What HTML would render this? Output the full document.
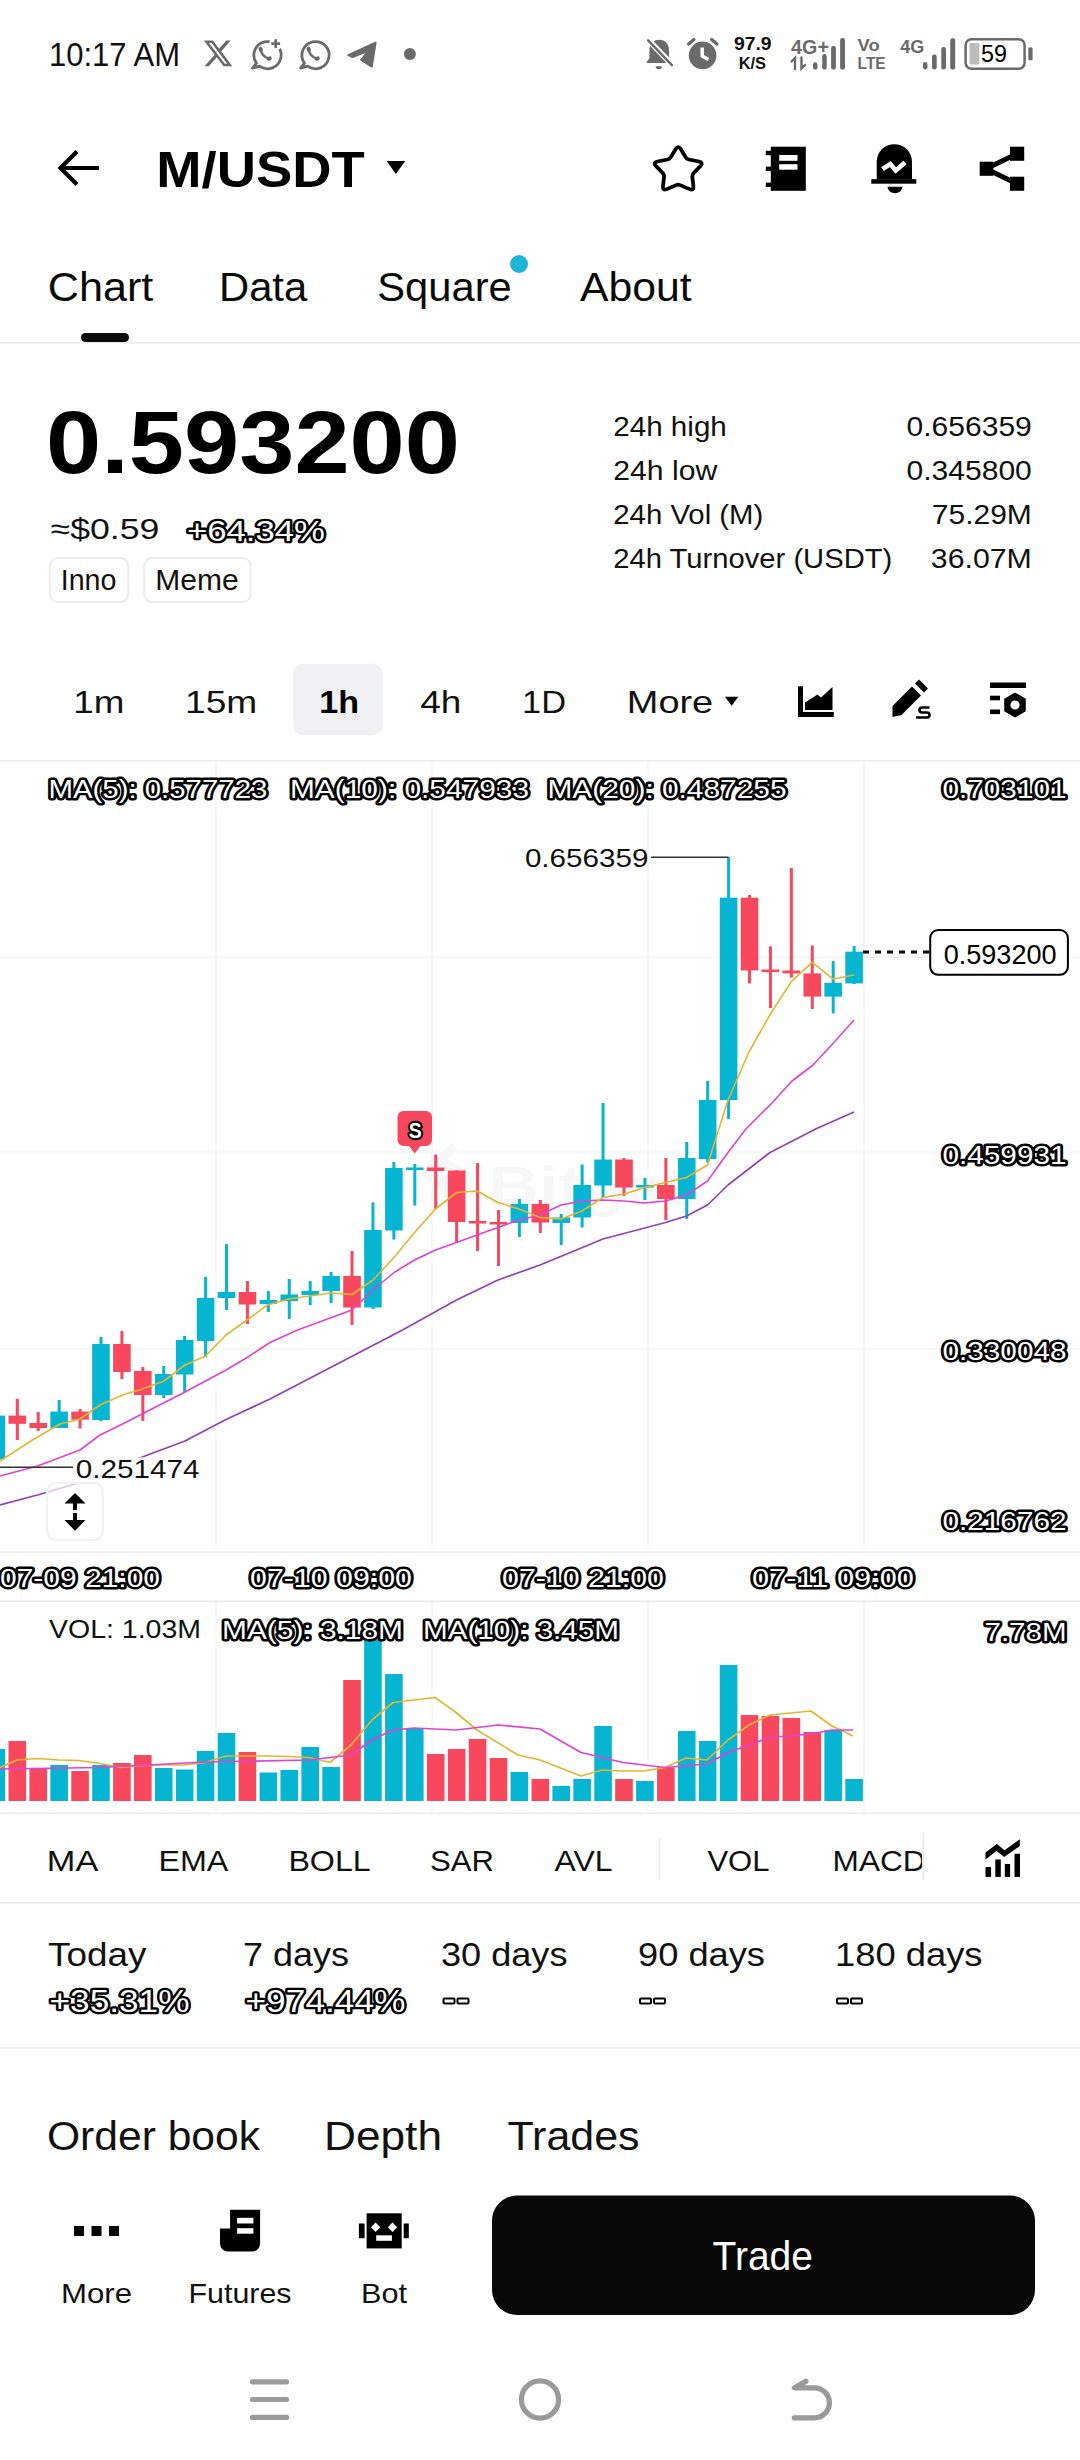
<!DOCTYPE html>
<html><head><meta charset="utf-8"><title>M/USDT</title>
<style>
html,body{margin:0;padding:0;background:#fff;width:1080px;height:2460px;overflow:hidden}
svg{display:block}
text{font-family:"Liberation Sans",sans-serif}
</style></head><body>
<svg width="1080" height="2460" viewBox="0 0 1080 2460">
<rect width="1080" height="2460" fill="#fff"/>
<text x="49" y="66.3" font-size="33.5" font-weight="normal" text-anchor="start" fill="#111" font-family="Liberation Sans" textLength="131" lengthAdjust="spacingAndGlyphs" >10:17 AM</text>
<path transform="translate(202.24,37.63) scale(1.32)" fill="#6a6a6a" d="M18.244 2.25h3.308l-7.227 8.26 8.502 11.24H16.17l-5.214-6.817L4.99 21.75H1.68l7.73-8.835L1.254 2.25H8.08l4.713 6.231zm-1.161 17.52h1.833L7.084 4.126H5.117z"/>
<g fill="none" stroke="#6a6a6a" stroke-width="2.8" stroke-linejoin="round"><path d="M256.5,63.2 l-4,5 7,-2 A13.6,13.6 0 1 0 256.5,63.2z"/></g>
<path d="M260.7,49.800000000000004 q0.7,5.8 8.3,9" fill="none" stroke="#6a6a6a" stroke-width="2.5" stroke-linecap="round"/>
<g fill="#6a6a6a"><ellipse cx="260.7" cy="49.300000000000004" rx="2.1" ry="2.6" transform="rotate(-25 260.7 49.300000000000004)"/><ellipse cx="269.3" cy="58.6" rx="2.6" ry="2" transform="rotate(-25 269.3 58.6)"/></g>
<circle cx="275.7" cy="43.6" r="6.6" fill="#fff"/>
<path d="M275.7,39.2v8.8M271.3,43.6h8.8" stroke="#6a6a6a" stroke-width="2.7"/>
<g fill="none" stroke="#6a6a6a" stroke-width="2.8" stroke-linejoin="round"><path d="M304.5,63.2 l-4,5 7,-2 A13.6,13.6 0 1 0 304.5,63.2z"/></g>
<path d="M308.7,49.800000000000004 q0.7,5.8 8.3,9" fill="none" stroke="#6a6a6a" stroke-width="2.5" stroke-linecap="round"/>
<g fill="#6a6a6a"><ellipse cx="308.7" cy="49.300000000000004" rx="2.1" ry="2.6" transform="rotate(-25 308.7 49.300000000000004)"/><ellipse cx="317.3" cy="58.6" rx="2.6" ry="2" transform="rotate(-25 317.3 58.6)"/></g>
<path d="M348.2,55.2 L375.6,42.6 L371.8,66.6 L361.2,59.8 L368.6,50.6 L352.6,57.2 Z" fill="#6a6a6a" stroke="#6a6a6a" stroke-width="2" stroke-linejoin="round"/>
<circle cx="409.9" cy="53.9" r="6" fill="#6a6a6a"/>
<g fill="#6a6a6a"><path d="M659.2,39.7 c-6,0 -9.8,4.5 -9.8,11 v7.8 l-2.6,3 v1.6 h24.8 v-1.6 l-2.5,-3 v-7.8 c0,-6.5 -3.9,-11 -9.9,-11z"/><path d="M655.7,66.2 h6.3 a3.15,3 0 0 1 -6.3,0z"/></g>
<path d="M647.6,39.2 L673.2,65.8" stroke="#fff" stroke-width="5.6"/><path d="M648.1,40.3 L671.9,65.2" stroke="#6a6a6a" stroke-width="2.4" stroke-linecap="round"/>
<circle cx="702.6" cy="55.4" r="13.8" fill="#6a6a6a"/><path d="M688.6,44 L693.9,39.5 M711.6,39.5 L716.9,44" stroke="#6a6a6a" stroke-width="3.4" stroke-linecap="round"/>
<path d="M702.2,47.6 v8.4 l6.3,3.6" fill="none" stroke="#fff" stroke-width="3.4"/>
<text x="752.8" y="50.4" font-size="18.5" font-weight="bold" text-anchor="middle" fill="#111" font-family="Liberation Sans" textLength="37.7" lengthAdjust="spacingAndGlyphs" >97.9</text>
<text x="752.4" y="69" font-size="16" font-weight="bold" text-anchor="middle" fill="#111" font-family="Liberation Sans" textLength="27.4" lengthAdjust="spacingAndGlyphs" >K/S</text>
<text x="791.1" y="53.7" font-size="19.5" font-weight="bold" text-anchor="start" fill="#6a6a6a" font-family="Liberation Sans" textLength="37.8" lengthAdjust="spacingAndGlyphs" >4G+</text>
<g stroke="#6a6a6a" stroke-width="2.4" fill="none" stroke-linecap="round"><path d="M795,69 v-11 l-3.5,3.5"/><path d="M801.5,57.5 v11 l3.5,-3.5"/></g>
<rect x="813" y="62.2" width="4.399999999999977" height="7.3999999999999915" rx="2.2" fill="#6a6a6a"/>
<rect x="822.2" y="54" width="4.5" height="15.599999999999994" rx="2.2" fill="#6a6a6a"/>
<rect x="831.1" y="45.9" width="4.7999999999999545" height="23.699999999999996" rx="2.2" fill="#6a6a6a"/>
<rect x="840.1" y="38" width="4.899999999999977" height="31.599999999999994" rx="2.2" fill="#6a6a6a"/>
<text x="857.6" y="51.3" font-size="16.5" font-weight="bold" text-anchor="start" fill="#6a6a6a" font-family="Liberation Sans" textLength="22.2" lengthAdjust="spacingAndGlyphs" >Vo</text>
<text x="857.6" y="69.4" font-size="17" font-weight="bold" text-anchor="start" fill="#6a6a6a" font-family="Liberation Sans" textLength="28.1" lengthAdjust="spacingAndGlyphs" >LTE</text>
<text x="900.2" y="52.8" font-size="19" font-weight="bold" text-anchor="start" fill="#6a6a6a" font-family="Liberation Sans" textLength="24.1" lengthAdjust="spacingAndGlyphs" >4G</text>
<rect x="923" y="62" width="4.399999999999977" height="7.400000000000006" rx="2.2" fill="#6a6a6a"/>
<rect x="932" y="54.6" width="4.7000000000000455" height="14.800000000000004" rx="2.2" fill="#6a6a6a"/>
<rect x="941.3" y="46.9" width="4.7000000000000455" height="22.500000000000007" rx="2.2" fill="#6a6a6a"/>
<rect x="950.2" y="38.3" width="5.0" height="31.10000000000001" rx="2.2" fill="#6a6a6a"/>
<rect x="965.6" y="39.2" width="59" height="29.6" rx="6" fill="none" stroke="#6a6a6a" stroke-width="2.5"/>
<rect x="969.4" y="43" width="9.9" height="21.4" rx="1" fill="#bdbdbd"/>
<rect x="1028.3" y="47.2" width="4.3" height="13" rx="1.5" fill="#6a6a6a"/>
<text x="981" y="62" font-size="23" font-weight="normal" text-anchor="start" fill="#000" font-family="Liberation Sans" textLength="26" lengthAdjust="spacingAndGlyphs" >59</text>
<path d="M99,168 H61 M77,151.5 L60.5,168 L77,184.5" fill="none" stroke="#000" stroke-width="4.2" stroke-linecap="butt" stroke-linejoin="miter"/>
<text x="156.3" y="186.8" font-size="50.5" font-weight="bold" text-anchor="start" fill="#000" font-family="Liberation Sans" textLength="208.4" lengthAdjust="spacingAndGlyphs" >M/USDT</text>
<path d="M386.6,161 h18.6 l-9.3,13z" fill="#000"/>
<path transform="translate(0,8.52) scale(1,0.95)" d="M675.80,147.80 Q678.20,143.60 680.60,147.80 L685.75,156.79 Q686.78,158.59 688.81,159.01 L698.95,161.13 Q703.69,162.12 700.44,165.70 L693.48,173.38 Q692.09,174.91 692.31,176.97 L693.43,187.27 Q693.95,192.08 689.54,190.10 L680.09,185.85 Q678.20,185.00 676.31,185.85 L666.86,190.10 Q662.45,192.08 662.97,187.27 L664.09,176.97 Q664.31,174.91 662.92,173.38 L655.96,165.70 Q652.71,162.12 657.45,161.13 L667.59,159.01 Q669.62,158.59 670.65,156.79 Z" fill="none" stroke="#000" stroke-width="3.8" stroke-linejoin="round"/>
<g fill="#000"><rect x="770.8" y="146.7" width="35" height="44.1"/><rect x="765.8" y="150.8" width="6" height="4.4"/><rect x="765.8" y="166.6" width="6" height="4.4"/><rect x="765.8" y="182.6" width="6" height="4.4"/></g>
<g fill="#fff"><rect x="779.2" y="155" width="18.3" height="5.8"/><rect x="779.2" y="164.2" width="18.3" height="5.5"/></g>
<path d="M876.7,179.5 V161.5 a17.65,17.3 0 0 1 35.3,0 V179.5z" fill="#000"/><rect x="871.3" y="179.2" width="45" height="4.5" fill="#000"/><path d="M887.5,186.7 h15 a7.5,6.6 0 0 1 -15,0z" fill="#000"/>
<path d="M882.5,169.2 L890.3,164 L895.8,170.5 L905,162.5" fill="none" stroke="#fff" stroke-width="4.6" stroke-linejoin="miter"/>
<g fill="#000"><rect x="1010" y="146.7" width="14.2" height="14.1"/><rect x="1010" y="176.7" width="14.2" height="14.1"/><rect x="979.7" y="161.7" width="13.6" height="14.1"/></g><path d="M986,168.7 L1017,153.7 M986,168.7 L1017,183.7" stroke="#000" stroke-width="5"/>
<text x="47.8" y="300.6" font-size="40.5" font-weight="normal" text-anchor="start" fill="#0a0a0a" font-family="Liberation Sans" textLength="105.5" lengthAdjust="spacingAndGlyphs" >Chart</text>
<text x="219" y="300.6" font-size="40.5" font-weight="normal" text-anchor="start" fill="#0a0a0a" font-family="Liberation Sans" textLength="88.2" lengthAdjust="spacingAndGlyphs" >Data</text>
<text x="377.3" y="300.6" font-size="40.5" font-weight="normal" text-anchor="start" fill="#0a0a0a" font-family="Liberation Sans" textLength="134.4" lengthAdjust="spacingAndGlyphs" >Square</text>
<text x="580" y="300.6" font-size="40.5" font-weight="normal" text-anchor="start" fill="#0a0a0a" font-family="Liberation Sans" textLength="111.7" lengthAdjust="spacingAndGlyphs" >About</text>
<circle cx="519" cy="264" r="9" fill="#1fb5d4"/>
<rect x="81" y="333" width="48" height="9" rx="4.5" fill="#0a0a0a"/>
<rect x="0" y="342" width="1080" height="1.5" fill="#ebebeb"/>
<text x="46" y="473" font-size="88.5" font-weight="bold" text-anchor="start" fill="#000" font-family="Liberation Sans" textLength="414" lengthAdjust="spacingAndGlyphs" >0.593200</text>
<text x="50.6" y="538.9" font-size="29" font-weight="normal" text-anchor="start" fill="#111" font-family="Liberation Sans" textLength="108.8" lengthAdjust="spacingAndGlyphs" >≈$0.59</text>
<text x="187" y="540.5" font-size="30" font-weight="normal" text-anchor="start" fill="#fff" stroke="#000" stroke-width="4.680000000000001" stroke-linejoin="round" paint-order="stroke" font-family="Liberation Sans" textLength="138" lengthAdjust="spacingAndGlyphs">+64.34%</text>
<rect x="49.9" y="558" width="78.4" height="44" rx="8" fill="none" stroke="#ececec" stroke-width="2"/>
<rect x="144.3" y="558" width="106.3" height="44" rx="8" fill="none" stroke="#ececec" stroke-width="2"/>
<text x="60.8" y="590.3" font-size="29" font-weight="normal" text-anchor="start" fill="#111" font-family="Liberation Sans" textLength="55.6" lengthAdjust="spacingAndGlyphs" >Inno</text>
<text x="155.3" y="590.3" font-size="29" font-weight="normal" text-anchor="start" fill="#111" font-family="Liberation Sans" textLength="83.3" lengthAdjust="spacingAndGlyphs" >Meme</text>
<text x="613.3" y="436.1" font-size="27.2" font-weight="normal" text-anchor="start" fill="#111" font-family="Liberation Sans" textLength="113.5" lengthAdjust="spacingAndGlyphs" class="sl">24h high</text>
<text x="1031.8" y="436.1" font-size="27.2" font-weight="normal" text-anchor="end" fill="#111" font-family="Liberation Sans" textLength="125.3" lengthAdjust="spacingAndGlyphs" class="sv">0.656359</text>
<text x="613.3" y="479.7" font-size="27.2" font-weight="normal" text-anchor="start" fill="#111" font-family="Liberation Sans" textLength="104" lengthAdjust="spacingAndGlyphs" class="sl">24h low</text>
<text x="1031.8" y="479.7" font-size="27.2" font-weight="normal" text-anchor="end" fill="#111" font-family="Liberation Sans" textLength="125.3" lengthAdjust="spacingAndGlyphs" class="sv">0.345800</text>
<text x="613.3" y="523.6" font-size="27.2" font-weight="normal" text-anchor="start" fill="#111" font-family="Liberation Sans" textLength="150" lengthAdjust="spacingAndGlyphs" class="sl">24h Vol (M)</text>
<text x="1031.8" y="523.6" font-size="27.2" font-weight="normal" text-anchor="end" fill="#111" font-family="Liberation Sans" textLength="100" lengthAdjust="spacingAndGlyphs" class="sv">75.29M</text>
<text x="613.3" y="568" font-size="27.2" font-weight="normal" text-anchor="start" fill="#111" font-family="Liberation Sans" textLength="279" lengthAdjust="spacingAndGlyphs" class="sl">24h Turnover (USDT)</text>
<text x="1031.8" y="568" font-size="27.2" font-weight="normal" text-anchor="end" fill="#111" font-family="Liberation Sans" textLength="101" lengthAdjust="spacingAndGlyphs" class="sv">36.07M</text>
<rect x="293" y="663.8" width="89.7" height="71.5" rx="10" fill="#f0f1f3"/>
<text x="73.2" y="713.2" font-size="31.5" font-weight="normal" text-anchor="start" fill="#111" font-family="Liberation Sans" textLength="51.1" lengthAdjust="spacingAndGlyphs" >1m</text>
<text x="185" y="713.2" font-size="31.5" font-weight="normal" text-anchor="start" fill="#111" font-family="Liberation Sans" textLength="72.2" lengthAdjust="spacingAndGlyphs" >15m</text>
<text x="319.2" y="713.2" font-size="32" font-weight="bold" text-anchor="start" fill="#000" font-family="Liberation Sans" textLength="39.8" lengthAdjust="spacingAndGlyphs" >1h</text>
<text x="420.2" y="713.2" font-size="31.5" font-weight="normal" text-anchor="start" fill="#111" font-family="Liberation Sans" textLength="41.1" lengthAdjust="spacingAndGlyphs" >4h</text>
<text x="522" y="713.2" font-size="31.5" font-weight="normal" text-anchor="start" fill="#111" font-family="Liberation Sans" textLength="44" lengthAdjust="spacingAndGlyphs" >1D</text>
<text x="626.8" y="713.2" font-size="31.5" font-weight="normal" text-anchor="start" fill="#111" font-family="Liberation Sans" textLength="86.4" lengthAdjust="spacingAndGlyphs" >More</text>
<path d="M725,696.7 h13.3 l-6.65,9z" fill="#000"/>
<g fill="#000"><rect x="798" y="686.3" width="5" height="30.7"/><rect x="798" y="712" width="35.8" height="5"/><path d="M805,710 V702.5 L817.5,694.5 L821,697.5 L832.5,687 V710z"/></g>
<g fill="#000"><path d="M892.5,706 L912,686.5 L921,695.5 L901.5,715 L892.5,717 z"/><path d="M915,683.5 L919,679.5 L928,688.5 L924,692.5z"/></g>
<path d="M929.5,707.5 h-7.5 a2.5,2.5 0 0 0 0,5 h5 a2.5,2.5 0 0 1 0,5 h-11" fill="none" stroke="#000" stroke-width="2.6"/>
<g fill="#000"><rect x="990" y="682.5" width="36" height="5.5"/><rect x="990" y="695.7" width="10" height="4.6"/><rect x="990" y="709.5" width="10" height="4.6"/><path d="M1015,692.5 L1025.8,698.75 V711.25 L1015,717.5 L1004.2,711.25 V698.75z"/></g><circle cx="1015" cy="705" r="4.6" fill="#fff"/>
<rect x="0" y="760" width="1080" height="1.5" fill="#ebebeb"/>
<rect x="215" y="761" width="2" height="791" fill="#f8f8f8"/>
<rect x="215" y="1601" width="2" height="211" fill="#f8f8f8"/>
<rect x="431" y="761" width="2" height="791" fill="#f8f8f8"/>
<rect x="431" y="1601" width="2" height="211" fill="#f8f8f8"/>
<rect x="647" y="761" width="2" height="791" fill="#f8f8f8"/>
<rect x="647" y="1601" width="2" height="211" fill="#f8f8f8"/>
<rect x="863" y="761" width="2" height="791" fill="#f8f8f8"/>
<rect x="863" y="1601" width="2" height="211" fill="#f8f8f8"/>
<rect x="0" y="956.15" width="1080" height="2.5" fill="#f8f8f8"/>
<rect x="0" y="1151.25" width="1080" height="2.5" fill="#f8f8f8"/>
<rect x="0" y="1347.75" width="1080" height="2.5" fill="#f8f8f8"/>
<rect x="0" y="1551.5" width="1080" height="1.5" fill="#ebebeb"/>
<rect x="0" y="1600.5" width="1080" height="1.5" fill="#ebebeb"/>
<rect x="0" y="1812.5" width="1080" height="1.5" fill="#ebebeb"/>
<text x="488" y="1205" font-size="56" font-weight="bold" fill="#f7f7f7" font-family="Liberation Sans" textLength="200" lengthAdjust="spacingAndGlyphs">Bitget</text><path d="M455,1146 L425,1172 L455,1198 M440,1160 L462,1172 L440,1184" fill="none" stroke="#f7f7f7" stroke-width="9"/>
<rect x="-5.12" y="1405" width="3" height="60.00" fill="#06b5d2"/>
<rect x="-12.42" y="1415.6" width="17.6" height="43.80" fill="#06b5d2"/>
<rect x="15.80" y="1398.7" width="3" height="41.30" fill="#f7485e"/>
<rect x="8.50" y="1415.6" width="17.6" height="8.20" fill="#f7485e"/>
<rect x="36.72" y="1412" width="3" height="19.00" fill="#f7485e"/>
<rect x="29.42" y="1423" width="17.6" height="5.00" fill="#f7485e"/>
<rect x="57.64" y="1400" width="3" height="28.00" fill="#06b5d2"/>
<rect x="50.34" y="1411.6" width="17.6" height="16.40" fill="#06b5d2"/>
<rect x="78.56" y="1409" width="3" height="19.50" fill="#f7485e"/>
<rect x="71.26" y="1411.6" width="17.6" height="8.10" fill="#f7485e"/>
<rect x="99.48" y="1337" width="3" height="84.00" fill="#06b5d2"/>
<rect x="92.18" y="1344" width="17.6" height="76.00" fill="#06b5d2"/>
<rect x="120.40" y="1331" width="3" height="48.00" fill="#f7485e"/>
<rect x="113.10" y="1344" width="17.6" height="28.00" fill="#f7485e"/>
<rect x="141.32" y="1367" width="3" height="54.00" fill="#f7485e"/>
<rect x="134.02" y="1371" width="17.6" height="24.00" fill="#f7485e"/>
<rect x="162.24" y="1366" width="3" height="32.00" fill="#06b5d2"/>
<rect x="154.94" y="1374" width="17.6" height="21.00" fill="#06b5d2"/>
<rect x="183.16" y="1336" width="3" height="56.00" fill="#06b5d2"/>
<rect x="175.86" y="1340" width="17.6" height="34.50" fill="#06b5d2"/>
<rect x="204.08" y="1277" width="3" height="80.00" fill="#06b5d2"/>
<rect x="196.78" y="1298" width="17.6" height="43.00" fill="#06b5d2"/>
<rect x="225.00" y="1244" width="3" height="66.00" fill="#06b5d2"/>
<rect x="217.70" y="1292" width="17.6" height="6.00" fill="#06b5d2"/>
<rect x="245.92" y="1281" width="3" height="43.00" fill="#f7485e"/>
<rect x="238.62" y="1292" width="17.6" height="12.50" fill="#f7485e"/>
<rect x="266.84" y="1291" width="3" height="21.00" fill="#06b5d2"/>
<rect x="259.54" y="1300" width="17.6" height="4.00" fill="#06b5d2"/>
<rect x="287.76" y="1279" width="3" height="40.00" fill="#06b5d2"/>
<rect x="280.46" y="1294.5" width="17.6" height="6.50" fill="#06b5d2"/>
<rect x="308.68" y="1281" width="3" height="24.00" fill="#06b5d2"/>
<rect x="301.38" y="1291" width="17.6" height="4.00" fill="#06b5d2"/>
<rect x="329.60" y="1272" width="3" height="31.00" fill="#06b5d2"/>
<rect x="322.30" y="1276" width="17.6" height="15.00" fill="#06b5d2"/>
<rect x="350.52" y="1251" width="3" height="74.00" fill="#f7485e"/>
<rect x="343.22" y="1276" width="17.6" height="31.50" fill="#f7485e"/>
<rect x="371.44" y="1202.5" width="3" height="106.50" fill="#06b5d2"/>
<rect x="364.14" y="1230" width="17.6" height="77.50" fill="#06b5d2"/>
<rect x="392.36" y="1162" width="3" height="77.50" fill="#06b5d2"/>
<rect x="385.06" y="1168" width="17.6" height="62.50" fill="#06b5d2"/>
<rect x="413.28" y="1164" width="3" height="41.50" fill="#06b5d2"/>
<rect x="405.98" y="1167.5" width="17.6" height="2.50" fill="#06b5d2"/>
<rect x="434.20" y="1154.5" width="3" height="54.50" fill="#f7485e"/>
<rect x="426.90" y="1167.5" width="17.6" height="3.50" fill="#f7485e"/>
<rect x="455.12" y="1170.5" width="3" height="72.00" fill="#f7485e"/>
<rect x="447.82" y="1170.5" width="17.6" height="51.50" fill="#f7485e"/>
<rect x="476.04" y="1163" width="3" height="88.00" fill="#f7485e"/>
<rect x="468.74" y="1221" width="17.6" height="2.50" fill="#f7485e"/>
<rect x="496.96" y="1210" width="3" height="56.00" fill="#f7485e"/>
<rect x="489.66" y="1222" width="17.6" height="2.50" fill="#f7485e"/>
<rect x="517.88" y="1199" width="3" height="38.00" fill="#06b5d2"/>
<rect x="510.58" y="1204" width="17.6" height="19.00" fill="#06b5d2"/>
<rect x="538.80" y="1200" width="3" height="33.00" fill="#f7485e"/>
<rect x="531.50" y="1204" width="17.6" height="18.50" fill="#f7485e"/>
<rect x="559.72" y="1214" width="3" height="31.00" fill="#06b5d2"/>
<rect x="552.42" y="1217.5" width="17.6" height="5.50" fill="#06b5d2"/>
<rect x="580.64" y="1164.5" width="3" height="63.00" fill="#06b5d2"/>
<rect x="573.34" y="1185" width="17.6" height="32.50" fill="#06b5d2"/>
<rect x="601.56" y="1103" width="3" height="94.50" fill="#06b5d2"/>
<rect x="594.26" y="1159.5" width="17.6" height="26.00" fill="#06b5d2"/>
<rect x="622.48" y="1158" width="3" height="38.00" fill="#f7485e"/>
<rect x="615.18" y="1159.5" width="17.6" height="28.00" fill="#f7485e"/>
<rect x="643.40" y="1178" width="3" height="22.00" fill="#06b5d2"/>
<rect x="636.10" y="1185" width="17.6" height="2.50" fill="#06b5d2"/>
<rect x="664.32" y="1158" width="3" height="62.00" fill="#f7485e"/>
<rect x="657.02" y="1185" width="17.6" height="14.00" fill="#f7485e"/>
<rect x="685.24" y="1142" width="3" height="77.00" fill="#06b5d2"/>
<rect x="677.94" y="1158" width="17.6" height="41.00" fill="#06b5d2"/>
<rect x="706.16" y="1081" width="3" height="81.50" fill="#06b5d2"/>
<rect x="698.86" y="1100" width="17.6" height="59.00" fill="#06b5d2"/>
<rect x="727.08" y="857" width="3" height="262.00" fill="#06b5d2"/>
<rect x="719.78" y="897.7" width="17.6" height="202.30" fill="#06b5d2"/>
<rect x="748.00" y="895" width="3" height="88.40" fill="#f7485e"/>
<rect x="740.70" y="897.7" width="17.6" height="72.80" fill="#f7485e"/>
<rect x="768.92" y="946.4" width="3" height="61.60" fill="#f7485e"/>
<rect x="761.62" y="969.5" width="17.6" height="2.50" fill="#f7485e"/>
<rect x="789.84" y="868" width="3" height="109.60" fill="#f7485e"/>
<rect x="782.54" y="970.5" width="17.6" height="2.90" fill="#f7485e"/>
<rect x="810.76" y="945.6" width="3" height="63.40" fill="#f7485e"/>
<rect x="803.46" y="973.4" width="17.6" height="23.20" fill="#f7485e"/>
<rect x="831.68" y="961" width="3" height="52.30" fill="#06b5d2"/>
<rect x="824.38" y="982.9" width="17.6" height="13.70" fill="#06b5d2"/>
<rect x="852.60" y="946" width="3" height="38.00" fill="#06b5d2"/>
<rect x="845.30" y="951.7" width="17.6" height="31.70" fill="#06b5d2"/>
<polyline points="0.0,1505.0 37.5,1495.0 80.0,1482.5 147.5,1455.0 185.0,1441.0 225.0,1420.0 270.0,1399.0 402.5,1330.0 456.5,1300.0 498.0,1280.0 540.0,1265.0 603.0,1239.0 665.5,1222.5 686.5,1216.0 707.5,1205.0 728.0,1185.0 770.0,1152.5 816.7,1128.5 854.0,1112.0" fill="none" stroke="#9440b4" stroke-width="1.7" stroke-linejoin="round"/>
<polyline points="0.0,1476.0 37.5,1466.0 80.0,1450.0 100.0,1435.0 122.5,1424.0 185.0,1392.0 205.5,1381.0 226.0,1370.0 247.0,1357.5 270.0,1342.5 297.5,1330.0 352.0,1310.0 373.0,1290.0 394.0,1272.5 414.5,1260.0 435.5,1250.0 456.5,1242.5 477.0,1235.0 498.0,1227.5 519.0,1220.0 540.0,1215.0 561.0,1205.0 582.0,1201.0 603.0,1200.0 624.0,1201.0 644.5,1203.0 665.5,1201.0 686.5,1195.0 707.5,1181.0 728.0,1152.5 746.3,1128.5 771.0,1104.0 792.0,1081.0 813.0,1065.0 832.5,1044.0 854.0,1020.0" fill="none" stroke="#e042d2" stroke-width="1.6" stroke-linejoin="round"/>
<polyline points="0.0,1461.0 32.5,1440.0 60.0,1424.0 80.0,1419.0 100.0,1405.0 122.5,1395.0 142.5,1389.0 164.0,1381.0 185.0,1365.0 205.5,1356.0 226.0,1335.0 247.0,1320.0 267.5,1305.0 289.0,1299.0 310.0,1296.0 331.0,1293.0 352.0,1294.5 373.0,1280.0 394.0,1257.5 414.5,1232.5 435.5,1209.0 456.5,1192.5 477.0,1191.0 498.0,1202.5 519.0,1209.0 540.0,1217.5 561.0,1219.0 582.0,1211.0 603.0,1197.5 624.0,1194.0 644.5,1187.5 665.5,1182.5 686.5,1177.5 707.5,1165.0 728.0,1100.0 749.5,1051.0 770.4,1014.0 791.3,981.6 812.3,962.3 833.2,979.0 854.0,975.0" fill="none" stroke="#e6b52e" stroke-width="1.6" stroke-linejoin="round"/>
<text x="48.4" y="797.5" font-size="25.5" font-weight="normal" text-anchor="start" fill="#fff" stroke="#000" stroke-width="4.9399999999999995" stroke-linejoin="round" paint-order="stroke" font-family="Liberation Sans" textLength="219" lengthAdjust="spacingAndGlyphs">MA(5): 0.577723</text>
<text x="290" y="797.5" font-size="25.5" font-weight="normal" text-anchor="start" fill="#fff" stroke="#000" stroke-width="4.9399999999999995" stroke-linejoin="round" paint-order="stroke" font-family="Liberation Sans" textLength="239" lengthAdjust="spacingAndGlyphs">MA(10): 0.547933</text>
<text x="547.5" y="797.5" font-size="25.5" font-weight="normal" text-anchor="start" fill="#fff" stroke="#000" stroke-width="4.9399999999999995" stroke-linejoin="round" paint-order="stroke" font-family="Liberation Sans" textLength="239" lengthAdjust="spacingAndGlyphs">MA(20): 0.487255</text>
<text x="1066.5" y="797.5" font-size="25.5" font-weight="normal" text-anchor="end" fill="#fff" stroke="#000" stroke-width="4.9399999999999995" stroke-linejoin="round" paint-order="stroke" font-family="Liberation Sans" textLength="124" lengthAdjust="spacingAndGlyphs">0.703101</text>
<text x="1066.5" y="1163.5" font-size="25.5" font-weight="normal" text-anchor="end" fill="#fff" stroke="#000" stroke-width="4.9399999999999995" stroke-linejoin="round" paint-order="stroke" font-family="Liberation Sans" textLength="124" lengthAdjust="spacingAndGlyphs">0.459931</text>
<text x="1066.5" y="1359.5" font-size="25.5" font-weight="normal" text-anchor="end" fill="#fff" stroke="#000" stroke-width="4.9399999999999995" stroke-linejoin="round" paint-order="stroke" font-family="Liberation Sans" textLength="124" lengthAdjust="spacingAndGlyphs">0.330048</text>
<text x="1066.5" y="1529.5" font-size="25.5" font-weight="normal" text-anchor="end" fill="#fff" stroke="#000" stroke-width="4.9399999999999995" stroke-linejoin="round" paint-order="stroke" font-family="Liberation Sans" textLength="124" lengthAdjust="spacingAndGlyphs">0.216762</text>
<text x="524.9" y="867.2" font-size="25" font-weight="normal" text-anchor="start" fill="#111" font-family="Liberation Sans" textLength="123.5" lengthAdjust="spacingAndGlyphs" >0.656359</text>
<path d="M651,857.2 H728.5" stroke="#333" stroke-width="1.5"/>
<rect x="74" y="1457.5" width="128" height="25" fill="#fff"/>
<text x="75.8" y="1477.8" font-size="25" font-weight="normal" text-anchor="start" fill="#111" font-family="Liberation Sans" textLength="123.8" lengthAdjust="spacingAndGlyphs" >0.251474</text>
<path d="M0,1467.2 H73" stroke="#333" stroke-width="1.5"/>
<path d="M863,952 H929" stroke="#000" stroke-width="3" stroke-dasharray="6,6"/>
<rect x="930.2" y="930" width="137.7" height="44.8" rx="8" fill="#fff" stroke="#000" stroke-width="2"/>
<text x="943.7" y="963.7" font-size="27.5" font-weight="normal" text-anchor="start" fill="#000" font-family="Liberation Sans" textLength="112.9" lengthAdjust="spacingAndGlyphs" >0.593200</text>
<path d="M403.5,1111 h22.5 a6,6 0 0 1 6,6 v23 a6,6 0 0 1 -6,6 h-5.5 l-5.75,7.5 -5.75,-7.5 h-5.5 a6,6 0 0 1 -6,-6 v-23 a6,6 0 0 1 6,-6z" fill="#f7485e"/>
<text x="415.2" y="1138.3" font-size="22.5" font-weight="bold" textLength="13" lengthAdjust="spacingAndGlyphs" fill="#fff" stroke="#000" stroke-width="4.4" stroke-linejoin="round" paint-order="stroke" text-anchor="middle" font-family="Liberation Sans">S</text>
<rect x="47" y="1483" width="56" height="57" rx="9" fill="#fff" fill-opacity="0.7" stroke="#f1f1f1" stroke-width="2.2"/>
<g fill="#000"><path d="M75,1493 L64.5,1503.5 H85.5z"/><rect x="73" y="1503" width="4" height="7"/><rect x="73" y="1513" width="4" height="7"/><path d="M75,1530.7 L64.5,1520 H85.5z"/></g>
<text x="80" y="1587" font-size="25.5" font-weight="normal" text-anchor="middle" fill="#fff" stroke="#000" stroke-width="4.9399999999999995" stroke-linejoin="round" paint-order="stroke" font-family="Liberation Sans" textLength="160" lengthAdjust="spacingAndGlyphs">07-09 21:00</text>
<text x="331" y="1587" font-size="25.5" font-weight="normal" text-anchor="middle" fill="#fff" stroke="#000" stroke-width="4.9399999999999995" stroke-linejoin="round" paint-order="stroke" font-family="Liberation Sans" textLength="162" lengthAdjust="spacingAndGlyphs">07-10 09:00</text>
<text x="583" y="1587" font-size="25.5" font-weight="normal" text-anchor="middle" fill="#fff" stroke="#000" stroke-width="4.9399999999999995" stroke-linejoin="round" paint-order="stroke" font-family="Liberation Sans" textLength="162" lengthAdjust="spacingAndGlyphs">07-10 21:00</text>
<text x="833" y="1587" font-size="25.5" font-weight="normal" text-anchor="middle" fill="#fff" stroke="#000" stroke-width="4.9399999999999995" stroke-linejoin="round" paint-order="stroke" font-family="Liberation Sans" textLength="162" lengthAdjust="spacingAndGlyphs">07-11 09:00</text>
<rect x="-12.42" y="1749" width="17.6" height="52" fill="#06b5d2"/>
<rect x="8.50" y="1741" width="17.6" height="60" fill="#f7485e"/>
<rect x="29.42" y="1769" width="17.6" height="32" fill="#f7485e"/>
<rect x="50.34" y="1765" width="17.6" height="36" fill="#06b5d2"/>
<rect x="71.26" y="1771" width="17.6" height="30" fill="#f7485e"/>
<rect x="92.18" y="1765" width="17.6" height="36" fill="#06b5d2"/>
<rect x="113.10" y="1763" width="17.6" height="38" fill="#f7485e"/>
<rect x="134.02" y="1755" width="17.6" height="46" fill="#f7485e"/>
<rect x="154.94" y="1768" width="17.6" height="33" fill="#06b5d2"/>
<rect x="175.86" y="1769.5" width="17.6" height="31.5" fill="#06b5d2"/>
<rect x="196.78" y="1751" width="17.6" height="50" fill="#06b5d2"/>
<rect x="217.70" y="1733" width="17.6" height="68" fill="#06b5d2"/>
<rect x="238.62" y="1752" width="17.6" height="49" fill="#f7485e"/>
<rect x="259.54" y="1772.5" width="17.6" height="28.5" fill="#06b5d2"/>
<rect x="280.46" y="1770" width="17.6" height="31" fill="#06b5d2"/>
<rect x="301.38" y="1747" width="17.6" height="54" fill="#06b5d2"/>
<rect x="322.30" y="1767" width="17.6" height="34" fill="#06b5d2"/>
<rect x="343.22" y="1680" width="17.6" height="121" fill="#f7485e"/>
<rect x="364.14" y="1640" width="17.6" height="161" fill="#06b5d2"/>
<rect x="385.06" y="1674" width="17.6" height="127" fill="#06b5d2"/>
<rect x="405.98" y="1729" width="17.6" height="72" fill="#06b5d2"/>
<rect x="426.90" y="1754" width="17.6" height="47" fill="#f7485e"/>
<rect x="447.82" y="1749" width="17.6" height="52" fill="#f7485e"/>
<rect x="468.74" y="1739" width="17.6" height="62" fill="#f7485e"/>
<rect x="489.66" y="1758" width="17.6" height="43" fill="#f7485e"/>
<rect x="510.58" y="1772" width="17.6" height="29" fill="#06b5d2"/>
<rect x="531.50" y="1779" width="17.6" height="22" fill="#f7485e"/>
<rect x="552.42" y="1786" width="17.6" height="15" fill="#06b5d2"/>
<rect x="573.34" y="1779" width="17.6" height="22" fill="#06b5d2"/>
<rect x="594.26" y="1726" width="17.6" height="75" fill="#06b5d2"/>
<rect x="615.18" y="1779" width="17.6" height="22" fill="#f7485e"/>
<rect x="636.10" y="1781" width="17.6" height="20" fill="#06b5d2"/>
<rect x="657.02" y="1767.5" width="17.6" height="33.5" fill="#f7485e"/>
<rect x="677.94" y="1731" width="17.6" height="70" fill="#06b5d2"/>
<rect x="698.86" y="1741" width="17.6" height="60" fill="#06b5d2"/>
<rect x="719.78" y="1665" width="17.6" height="136" fill="#06b5d2"/>
<rect x="740.70" y="1715" width="17.6" height="86" fill="#f7485e"/>
<rect x="761.62" y="1716" width="17.6" height="85" fill="#f7485e"/>
<rect x="782.54" y="1718" width="17.6" height="83" fill="#f7485e"/>
<rect x="803.46" y="1732" width="17.6" height="69" fill="#f7485e"/>
<rect x="824.38" y="1730" width="17.6" height="71" fill="#06b5d2"/>
<rect x="845.30" y="1779" width="17.6" height="22" fill="#06b5d2"/>
<polyline points="0.0,1767.5 17.0,1760.0 38.0,1758.5 58.5,1760.0 79.0,1760.5 100.0,1763.5 121.0,1767.5 142.5,1765.5 163.0,1765.0 184.0,1765.0 205.0,1762.5 226.0,1756.0 246.5,1756.0 267.5,1756.0 288.5,1756.5 309.0,1757.5 330.0,1762.5 351.0,1745.0 372.0,1720.0 393.0,1702.5 435.0,1697.5 456.0,1712.5 477.0,1730.0 518.0,1755.0 540.0,1760.0 581.0,1776.0 602.0,1770.0 623.0,1771.0 644.0,1771.0 665.0,1767.5 686.0,1758.0 707.0,1760.0 728.0,1740.0 749.0,1725.0 770.0,1715.0 811.0,1711.0 832.0,1726.0 853.0,1736.0" fill="none" stroke="#e6b52e" stroke-width="1.7" stroke-linejoin="round"/>
<polyline points="0.0,1769.0 100.0,1767.5 205.0,1762.0 309.0,1760.0 351.0,1755.0 372.0,1740.0 393.0,1730.0 414.0,1728.0 456.0,1730.0 498.0,1725.0 540.0,1729.0 581.0,1752.5 623.0,1762.5 665.0,1767.5 707.0,1764.0 728.0,1752.5 770.0,1737.5 811.0,1734.0 832.0,1730.0 853.0,1730.0" fill="none" stroke="#e042d2" stroke-width="1.7" stroke-linejoin="round"/>
<text x="49" y="1638" font-size="26" font-weight="normal" text-anchor="start" fill="#111" font-family="Liberation Sans" textLength="152" lengthAdjust="spacingAndGlyphs" >VOL: 1.03M</text>
<text x="222" y="1638.5" font-size="25.5" font-weight="normal" text-anchor="start" fill="#fff" stroke="#000" stroke-width="4.9399999999999995" stroke-linejoin="round" paint-order="stroke" font-family="Liberation Sans" textLength="181" lengthAdjust="spacingAndGlyphs">MA(5): 3.18M</text>
<text x="423" y="1638.5" font-size="25.5" font-weight="normal" text-anchor="start" fill="#fff" stroke="#000" stroke-width="4.9399999999999995" stroke-linejoin="round" paint-order="stroke" font-family="Liberation Sans" textLength="196" lengthAdjust="spacingAndGlyphs">MA(10): 3.45M</text>
<text x="1066.5" y="1641" font-size="25.5" font-weight="normal" text-anchor="end" fill="#fff" stroke="#000" stroke-width="4.9399999999999995" stroke-linejoin="round" paint-order="stroke" font-family="Liberation Sans" textLength="82" lengthAdjust="spacingAndGlyphs">7.78M</text>
<text x="46.8" y="1871" font-size="30" font-weight="normal" text-anchor="start" fill="#111" font-family="Liberation Sans" textLength="51.5" lengthAdjust="spacingAndGlyphs" >MA</text>
<text x="158.4" y="1871" font-size="30" font-weight="normal" text-anchor="start" fill="#111" font-family="Liberation Sans" textLength="69.9" lengthAdjust="spacingAndGlyphs" >EMA</text>
<text x="288.4" y="1871" font-size="30" font-weight="normal" text-anchor="start" fill="#111" font-family="Liberation Sans" textLength="82.3" lengthAdjust="spacingAndGlyphs" >BOLL</text>
<text x="430" y="1871" font-size="30" font-weight="normal" text-anchor="start" fill="#111" font-family="Liberation Sans" textLength="64" lengthAdjust="spacingAndGlyphs" >SAR</text>
<text x="554.6" y="1871" font-size="30" font-weight="normal" text-anchor="start" fill="#111" font-family="Liberation Sans" textLength="58" lengthAdjust="spacingAndGlyphs" >AVL</text>
<text x="707.4" y="1871" font-size="30" font-weight="normal" text-anchor="start" fill="#111" font-family="Liberation Sans" textLength="62.1" lengthAdjust="spacingAndGlyphs" >VOL</text>
<svg x="832" y="1830" width="90" height="60"><text x="0.6" y="41" font-size="30" fill="#111" font-family="Liberation Sans" textLength="93" lengthAdjust="spacingAndGlyphs">MACD</text></svg>
<rect x="658.7" y="1838.5" width="1.5" height="41.5" fill="#ebebeb"/>
<rect x="922.5" y="1833" width="1.5" height="47" fill="#ebebeb"/>
<g fill="#000"><rect x="985.5" y="1867" width="5.6" height="9.9"/><rect x="995.3" y="1859.5" width="5.5" height="17.4"/><rect x="1004.8" y="1864" width="5.3" height="12.9"/><rect x="1014.5" y="1853.8" width="5.5" height="23.1"/><path d="M985.5,1852.5 L996.8,1844 L1004.5,1850.2 L1019.8,1839.2 V1846 L1004.2,1857 L996.5,1851 L985.5,1859.5 Z"/></g>
<rect x="0" y="1902" width="1080" height="1.5" fill="#ebebeb"/>
<text x="48" y="1966" font-size="32.5" font-weight="normal" text-anchor="start" fill="#111" font-family="Liberation Sans" textLength="98.5" lengthAdjust="spacingAndGlyphs" >Today</text>
<text x="243" y="1966" font-size="32.5" font-weight="normal" text-anchor="start" fill="#111" font-family="Liberation Sans" textLength="106" lengthAdjust="spacingAndGlyphs" >7 days</text>
<text x="441" y="1966" font-size="32.5" font-weight="normal" text-anchor="start" fill="#111" font-family="Liberation Sans" textLength="126.5" lengthAdjust="spacingAndGlyphs" >30 days</text>
<text x="638" y="1966" font-size="32.5" font-weight="normal" text-anchor="start" fill="#111" font-family="Liberation Sans" textLength="127" lengthAdjust="spacingAndGlyphs" >90 days</text>
<text x="835" y="1966" font-size="32.5" font-weight="normal" text-anchor="start" fill="#111" font-family="Liberation Sans" textLength="147.5" lengthAdjust="spacingAndGlyphs" >180 days</text>
<text x="49.5" y="2012" font-size="32" font-weight="normal" text-anchor="start" fill="#fff" stroke="#000" stroke-width="4.680000000000001" stroke-linejoin="round" paint-order="stroke" font-family="Liberation Sans" textLength="140" lengthAdjust="spacingAndGlyphs">+35.31%</text>
<text x="245.5" y="2012" font-size="32" font-weight="normal" text-anchor="start" fill="#fff" stroke="#000" stroke-width="4.680000000000001" stroke-linejoin="round" paint-order="stroke" font-family="Liberation Sans" textLength="160" lengthAdjust="spacingAndGlyphs">+974.44%</text>
<rect x="443.5" y="1998.5" width="11" height="5" rx="1" fill="#fff" stroke="#000" stroke-width="2"/><rect x="457.5" y="1998.5" width="11" height="5" rx="1" fill="#fff" stroke="#000" stroke-width="2"/>
<rect x="640" y="1998.5" width="11" height="5" rx="1" fill="#fff" stroke="#000" stroke-width="2"/><rect x="654" y="1998.5" width="11" height="5" rx="1" fill="#fff" stroke="#000" stroke-width="2"/>
<rect x="837" y="1998.5" width="11" height="5" rx="1" fill="#fff" stroke="#000" stroke-width="2"/><rect x="851" y="1998.5" width="11" height="5" rx="1" fill="#fff" stroke="#000" stroke-width="2"/>
<rect x="0" y="2047" width="1080" height="1.5" fill="#ebebeb"/>
<text x="47" y="2149.5" font-size="41.5" font-weight="normal" text-anchor="start" fill="#111" font-family="Liberation Sans" textLength="213" lengthAdjust="spacingAndGlyphs" >Order book</text>
<text x="324" y="2150" font-size="41" font-weight="normal" text-anchor="start" fill="#111" font-family="Liberation Sans" textLength="118" lengthAdjust="spacingAndGlyphs" >Depth</text>
<text x="507.5" y="2149.5" font-size="41" font-weight="normal" text-anchor="start" fill="#111" font-family="Liberation Sans" textLength="132" lengthAdjust="spacingAndGlyphs" >Trades</text>
<g fill="#000"><rect x="74" y="2226" width="10" height="10"/><rect x="91.5" y="2226" width="10" height="10"/><rect x="109" y="2226" width="10" height="10"/></g>
<path d="M230.1,2209.7 H260.1 V2243.6 a8,8 0 0 1 -8,8 H228 a8,8 0 0 1 -8,-8 V2228.6 H230.1z" fill="#000"/><g fill="#fff"><rect x="237.1" y="2217.8" width="16.3" height="5.7"/><rect x="237.1" y="2228.2" width="16.3" height="5.5"/></g>
<g fill="#000"><rect x="366.6" y="2213.3" width="35.1" height="35.1"/><rect x="358.9" y="2223.5" width="5.7" height="14.7"/><rect x="403.7" y="2223.5" width="5.1" height="14.7"/></g><g fill="#fff"><path d="M375.6,2222.5 l4.7,4.7 -4.7,4.7 -4.7,-4.7z"/><path d="M392.5,2222.5 l4.7,4.7 -4.7,4.7 -4.7,-4.7z"/><rect x="376.2" y="2235.3" width="15.7" height="5.5"/></g>
<text x="96.5" y="2302.5" font-size="28" font-weight="normal" text-anchor="middle" fill="#111" font-family="Liberation Sans" textLength="71" lengthAdjust="spacingAndGlyphs" >More</text>
<text x="240" y="2302.5" font-size="28" font-weight="normal" text-anchor="middle" fill="#111" font-family="Liberation Sans" textLength="103" lengthAdjust="spacingAndGlyphs" >Futures</text>
<text x="384" y="2302.5" font-size="28" font-weight="normal" text-anchor="middle" fill="#111" font-family="Liberation Sans" textLength="46" lengthAdjust="spacingAndGlyphs" >Bot</text>
<rect x="492" y="2195.6" width="543" height="119.4" rx="25" fill="#080808"/>
<text x="762.8" y="2270" font-size="40" font-weight="normal" text-anchor="middle" fill="#fff" font-family="Liberation Sans" textLength="100.4" lengthAdjust="spacingAndGlyphs" >Trade</text>
<g stroke="#9a9a9a" stroke-width="5.2" stroke-linecap="round"><path d="M252.5,2381.8 H286.5 M252.5,2399.5 H286.5 M252.5,2417.4 H286.5"/></g>
<circle cx="540" cy="2399.5" r="18.6" fill="none" stroke="#9a9a9a" stroke-width="5.2"/>
<path d="M805.8,2381.4 L794.4,2387.8 H814.4 A15.05,15.05 0 0 1 814.4,2417.9 H794.4" fill="none" stroke="#9a9a9a" stroke-width="5.3" stroke-linecap="round" stroke-linejoin="round"/>
</svg>
</body></html>
